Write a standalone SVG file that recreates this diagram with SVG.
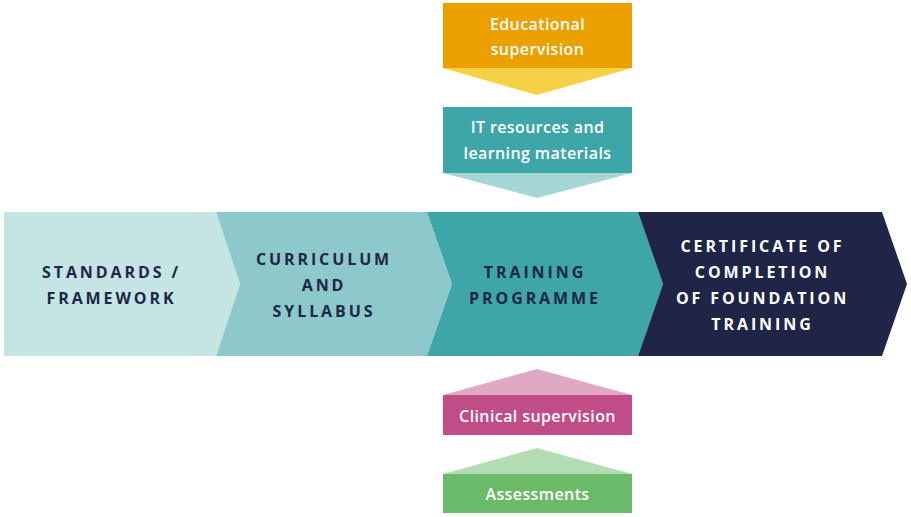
<svg xmlns="http://www.w3.org/2000/svg" width="911" height="517" viewBox="0 0 911 517">
<style>
.cap{font-family:"Open Sans","Liberation Sans",sans-serif;font-weight:700;font-size:16px;letter-spacing:2.9px;text-anchor:middle;fill:#1F2547}
.capw{fill:#FFFFFF}
.lbl{font-family:"Open Sans","Liberation Sans",sans-serif;font-weight:600;font-size:16px;letter-spacing:0.4px;text-anchor:middle;fill:#FFFFFF}
</style>
<rect width="911" height="517" fill="#FFFFFF"/>
<g id="connectors">
<polygon points="443,68 632,68 537,95" fill="#F6D145"/>
<polygon points="443,173 632,173 537,198" fill="#A6D6D6"/>
<polygon points="443,395 632,395 537,369" fill="#DFA9C3"/>
<polygon points="443,474 632,474 537,448" fill="#B3DCB3"/>
</g>
<g id="standards">
<polygon points="4,212 216,212 240,284 216,356 4,356" fill="#C5E5E4"/>
<text class="cap" x="111.5" y="278">STANDARDS /</text>
<text class="cap" x="111.5" y="304">FRAMEWORK</text>
</g>
<g id="curriculum">
<polygon points="216,212 427,212 452,284 427,356 216,356 240,284" fill="#8DC8CB"/>
<text class="cap" x="324" y="265">CURRICULUM</text>
<text class="cap" x="324" y="291">AND</text>
<text class="cap" x="324" y="317">SYLLABUS</text>
</g>
<g id="training">
<polygon points="427,212 638,212 663,284 638,356 427,356 452,284" fill="#3EA6A9"/>
<text class="cap" x="535" y="278">TRAINING</text>
<text class="cap" x="535" y="304">PROGRAMME</text>
</g>
<g id="certificate">
<polygon points="638,212 882,212 907,284 882,356 638,356 663,284" fill="#1F2547"/>
<text class="cap capw" x="762.5" y="252">CERTIFICATE OF</text>
<text class="cap capw" x="762.5" y="278">COMPLETION</text>
<text class="cap capw" x="762.5" y="304">OF FOUNDATION</text>
<text class="cap capw" x="762.5" y="330">TRAINING</text>
</g>
<g id="educational">
<rect x="443" y="3" width="189" height="65" fill="#EBA000"/>
<text class="lbl" x="537.5" y="30">Educational</text>
<text class="lbl" x="537.5" y="55">supervision</text>
</g>
<g id="it-resources">
<rect x="443" y="107" width="189" height="66" fill="#3EA6A9"/>
<text class="lbl" x="537.5" y="133">IT resources and</text>
<text class="lbl" x="537.5" y="159">learning materials</text>
</g>
<g id="clinical">
<rect x="443" y="395" width="189" height="40" fill="#C04D87"/>
<text class="lbl" x="537.5" y="422">Clinical supervision</text>
</g>
<g id="assessments">
<rect x="443" y="474" width="189" height="39" fill="#6BBA6A"/>
<text class="lbl" x="537.5" y="500">Assessments</text>
</g>
</svg>
